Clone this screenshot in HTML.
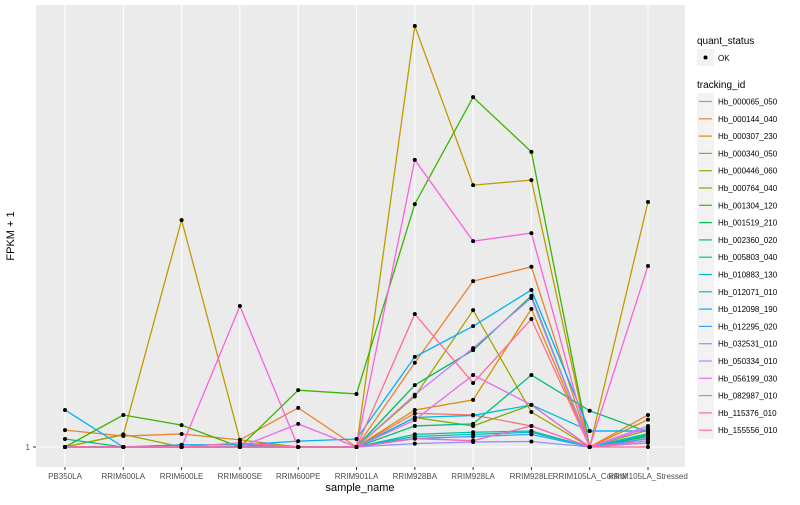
<!DOCTYPE html>
<html><head><meta charset="utf-8"><style>
body{margin:0;background:#fff;font-family:"Liberation Sans",sans-serif;}
svg text{font-family:"Liberation Sans",sans-serif;}
</style></head><body>
<svg id="chart" width="800" height="500" xmlns="http://www.w3.org/2000/svg">
<rect x="36" y="5" width="649" height="462" fill="#EBEBEB"/>
<g id="grid"></g><g id="lines"></g><g id="pts"></g><g id="axes"></g><g id="legend"></g>
<text x="14" y="236" font-size="11" text-anchor="middle" transform="rotate(-90 14 236)">FPKM + 1</text>
<text x="360" y="491" font-size="11" text-anchor="middle">sample_name</text>
</svg>
<script>
const categories=["PB350LA","RRIM600LA","RRIM600LE","RRIM600SE","RRIM600PE","RRIM901LA","RRIM928BA","RRIM928LA","RRIM928LE","RRIM105LA_Control","RRIM105LA_Stressed"];
const seriesNames=["Hb_000065_050","Hb_000144_040","Hb_000307_230","Hb_000340_050","Hb_000446_060","Hb_000764_040","Hb_001304_120","Hb_001519_210","Hb_002360_020","Hb_005803_040","Hb_010883_130","Hb_012071_010","Hb_012098_190","Hb_012295_020","Hb_032531_010","Hb_050334_010","Hb_056199_030","Hb_082987_010","Hb_115376_010","Hb_155556_010"];
const seriesColors=["#F8766D","#EA8331","#D89000","#C09B00","#A3A500","#7CAE00","#39B600","#00BB4E","#00BF7D","#00C1A3","#00BFC4","#00BAE0","#00B0F6","#35A2FF","#9590FF","#C77CFF","#E76BF3","#FA62DB","#FF62BC","#FF6C91"];
const s0=[1,1,1,1,1,1,9,8.6,6,1,2];
const s1=[5,3.6,4.1,2.7,10.3,1,21,40.4,43.8,1,8.6];
const s2=[1,1,1,1,1,1,9.8,12.2,33.8,1,7.5];
const s3=[1,3.9,54.9,2.7,1,1,101,63.2,64.4,1,59.2];
const s4=[1,4,1,1,1,1,13,33.5,9.3,1,5];
const s5=[1,1,1,1,1,1,8,6,11,1,4];
const s6=[1,8.6,6.2,1,14.5,13.6,58.7,84.1,71.1,1,3];
const s7=[1,1,1,1,1,1,15.7,24,36.9,1,3.5];
const s8=[2.9,1,1,1,1,1,6,6.5,18.1,9.6,4.6];
const s9=[1,1,1,1,1,1,4,4.5,4.8,1,3.8];
const s10=[1,1,1,1,1,1,3.5,4,4.5,1,4.2];
const s11=[1,1,1.5,1.5,1,1,8,8.5,11,4.8,4.8];
const s12=[9.8,1,1.5,1.5,2.4,2.9,22.4,29.7,38.3,4.8,4.8];
const s13=[1,1,1,1,1,1,3,3.5,4,1,3];
const s14=[1,1,1,1,1,1,1.8,2.2,2.3,1,2];
const s15=[1,1,1,1,1,1,13.4,24.5,36.4,1,5.5];
const s16=[1,1,1,1,6.5,1,7.4,18.1,11,1,6];
const s17=[1,1,1,34.5,1,1,69.2,49.9,51.8,1,44];
const s18=[1,1,1,2,1,1,3,2.5,6,1,2.5];
const s19=[1,1,1,1,1,1,32.6,16.2,31.4,1,1];
const series=[s0,s1,s2,s3,s4,s5,s6,s7,s8,s9,s10,s11,s12,s13,s14,s15,s16,s17,s18,s19];
const yTicks=[1];
const NS="http://www.w3.org/2000/svg";
function xS(i){return 65+i*58.3;}
function yS(v){return 447-(v-1)*4.21;}
function mk(t,a,p){const e=document.createElementNS(NS,t);for(const k in a)e.setAttribute(k,a[k]);p.appendChild(e);return e;}
const grid=document.getElementById('grid'),lines=document.getElementById('lines'),pts=document.getElementById('pts'),axes=document.getElementById('axes'),leg=document.getElementById('legend');
categories.forEach((c,i)=>{
  const g=mk('line',{x1:xS(i),x2:xS(i),y1:5,y2:467,stroke:'#fff','stroke-width':1},grid);
  
  
  const t=mk('line',{x1:xS(i),x2:xS(i),y1:467,y2:470,stroke:'#333'},axes);
  
  
  const l=mk('text',{x:xS(i),y:479,'font-size':8,'text-anchor':'middle',fill:'#4D4D4D'},axes);
  l.textContent=c;
  
  
});
yTicks.forEach(v=>{
  const g=mk('line',{x1:36,x2:685,y1:yS(v),y2:yS(v),stroke:'#fff','stroke-width':1},grid);
  
  
  const t=mk('line',{x1:33,x2:36,y1:yS(v),y2:yS(v),stroke:'#333'},axes);
  
  
  const l=mk('text',{x:30,y:yS(v)+3,'font-size':8,'text-anchor':'end',fill:'#4D4D4D'},axes);
  l.textContent=v;
  
  
});
series.forEach((s,k)=>{
  const p=mk('polyline',{points:s.map((v,i)=>xS(i)+','+yS(v)).join(' '),fill:'none',stroke:seriesColors[k],'stroke-width':1.3},lines);
  
  
  s.forEach((v,i)=>{
    const r=mk('circle',{cx:xS(i),cy:yS(v),r:2,fill:'#000'},pts);
    
    
  });
});
let t=mk('text',{x:697,y:44,'font-size':10},leg);t.textContent='quant_status';


let b=mk('rect',{x:697,y:49,width:17,height:17,fill:'#F2F2F2'},leg);


mk('circle',{cx:705.5,cy:57.5,r:2,fill:'#000'},leg);
t=mk('text',{x:718,y:61,'font-size':8},leg);t.textContent='OK';


t=mk('text',{x:697,y:88,'font-size':10},leg);t.textContent='tracking_id';


seriesNames.forEach((n,k)=>{
  const y=93+k*17.3;
  const r=mk('rect',{x:697,y:y,width:17,height:17,fill:'#F2F2F2'},leg);
  
  
  mk('line',{x1:699,x2:712,y1:y+8.5,y2:y+8.5,stroke:seriesColors[k],'stroke-width':1.2},leg);
  const tx=mk('text',{x:718,y:y+11.5,'font-size':8},leg);
  tx.textContent=n;
  
  
});
</script>
</body></html>
